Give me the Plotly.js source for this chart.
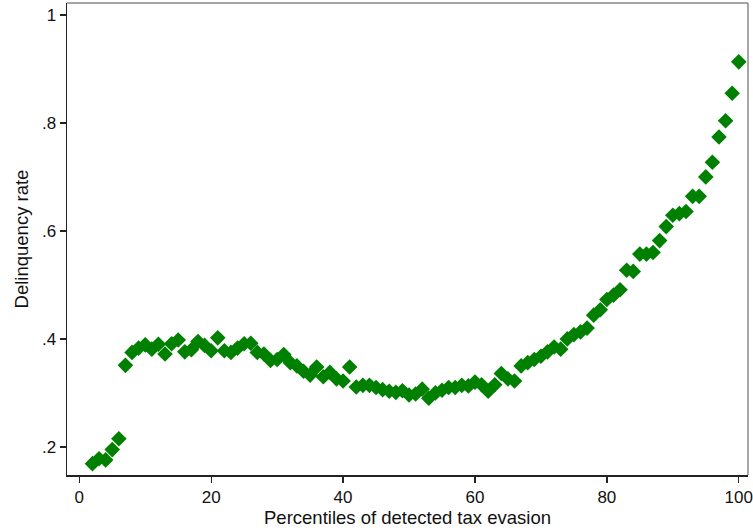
<!DOCTYPE html>
<html>
<head>
<meta charset="utf-8">
<script src="https://cdn.plot.ly/plotly-3.0.1.min.js"></script>
<style>html,body{margin:0;padding:0;background:#fff;}#chart{width:753px;height:532px;}</style>
</head>
<body>
<div id="chart"></div>
<script>
const percentiles = [];
for (let p = 2; p <= 100; p++) percentiles.push(p);
const delinquency = [
  0.169, 0.178, 0.176, 0.195, 0.215, 0.351, 0.375, 0.383, 0.389, 0.381,
  0.390, 0.372, 0.391, 0.398, 0.376, 0.380, 0.395, 0.388, 0.378, 0.402,
  0.378, 0.375, 0.383, 0.391, 0.392, 0.375, 0.372, 0.360, 0.362, 0.371,
  0.356, 0.350, 0.340, 0.333, 0.348, 0.330, 0.338, 0.326, 0.322, 0.348,
  0.311, 0.314, 0.314, 0.310, 0.306, 0.303, 0.301, 0.304, 0.296, 0.298,
  0.307, 0.290, 0.300, 0.305, 0.310, 0.310, 0.314, 0.313, 0.320, 0.315,
  0.303, 0.315, 0.336, 0.326, 0.322, 0.350, 0.356, 0.362, 0.368, 0.376,
  0.385, 0.381, 0.400, 0.408, 0.413, 0.420, 0.444, 0.454, 0.473, 0.481,
  0.491, 0.527, 0.525, 0.557, 0.557, 0.560, 0.582, 0.608, 0.629, 0.632,
  0.636, 0.664, 0.664, 0.700, 0.727, 0.774, 0.804, 0.855, 0.913
];
const xTicks = [0, 20, 40, 60, 80, 100];
const yTicks = [0.2, 0.4, 0.6, 0.8, 1];
const yTickLabels = ['.2', '.4', '.6', '.8', '1'];

const trace = {
  x: percentiles,
  y: delinquency,
  type: 'scatter',
  mode: 'markers',
  marker: {symbol: 'diamond', size: 12, color: '#008000', line: {width: 0}},
  hoverinfo: 'x+y'
};

const layout = {
  width: 753, height: 532,
  margin: {l: 67, r: 5, t: 3, b: 57},
  paper_bgcolor: '#fff', plot_bgcolor: '#fff',
  showlegend: false,
  font: {family: 'Liberation Sans, Arial, sans-serif', color: '#000'},
  xaxis: {
    range: [-1.86, 101.4],
    tickvals: xTicks,
    ticktext: xTicks.map(String),
    ticks: 'outside', ticklen: 6, tickwidth: 1.3, tickcolor: '#222',
    showline: true, linecolor: '#222', linewidth: 1.5,
    showgrid: false, zeroline: false,
    tickfont: {size: 17, color: '#111'},
    title: {text: 'Percentiles of detected tax evasion', font: {size: 18.5, color: '#111'}, standoff: 4}
  },
  yaxis: {
    range: [0.148, 1.022],
    tickvals: yTicks,
    ticktext: yTickLabels,
    ticks: 'outside', ticklen: 6, tickwidth: 1.3, tickcolor: '#222',
    showline: true, linecolor: '#222', linewidth: 1.5,
    showgrid: false, zeroline: false,
    tickfont: {size: 17, color: '#111'},
    title: {text: 'Delinquency rate', font: {size: 18.5, color: '#111'}, standoff: 8}
  },
  shapes: [
    {type: 'line', xref: 'paper', yref: 'paper', x0: 0, x1: 1, y0: 1, y1: 1, line: {color: '#888', width: 1.5}},
    {type: 'line', xref: 'paper', yref: 'paper', x0: 1, x1: 1, y0: 0, y1: 1, line: {color: '#888', width: 1.5}}
  ]
};

Plotly.newPlot('chart', [trace], layout, {displayModeBar: false, staticPlot: true});
</script>
</body>
</html>
